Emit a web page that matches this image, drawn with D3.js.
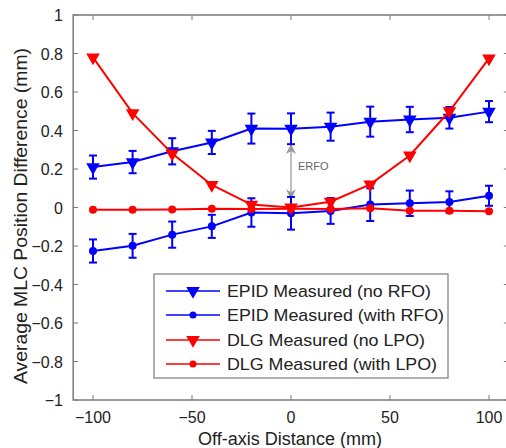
<!DOCTYPE html>
<html>
<head>
<meta charset="utf-8">
<script src="https://cdn.jsdelivr.net/npm/d3@7"></script>
<style>
  body { margin: 0; background: #fff; }
  svg { display: block; font-family: "Liberation Sans", Arial, sans-serif; }
</style>
</head>
<body>
<div id="container"></div>
<script>
// data
const distances = [-100, -80, -60, -40, -20, 0, 20, 40, 60, 80, 100];
const epidNoRfo = [0.21, 0.236, 0.292, 0.338, 0.41, 0.409, 0.42, 0.446, 0.457, 0.466, 0.498];
const epidNoRfoErr = [0.06, 0.058, 0.068, 0.06, 0.078, 0.08, 0.073, 0.078, 0.066, 0.056, 0.055];
const epidRfo = [-0.226, -0.199, -0.141, -0.098, -0.026, -0.03, -0.018, 0.015, 0.022, 0.029, 0.061];
const epidRfoErr = [0.06, 0.062, 0.068, 0.06, 0.074, 0.085, 0.067, 0.085, 0.066, 0.055, 0.052];
const dlgNoLpo = [0.78, 0.49, 0.28, 0.117, 0.015, 0.0, 0.03, 0.12, 0.27, 0.5, 0.775];
const dlgLpo = [-0.012, -0.012, -0.01, -0.006, -0.008, -0.006, -0.008, -0.004, -0.017, -0.017, -0.02];
const xTicks = [-100, -50, 0, 50, 100];
const yTicks = [-1, -0.8, -0.6, -0.4, -0.2, 0, 0.2, 0.4, 0.6, 0.8, 1];
const legendLabels = ['EPID Measured (no RFO)', 'EPID Measured (with RFO)', 'DLG Measured (no LPO)', 'DLG Measured (with LPO)'];

const width = 506, height = 448;
const axisColor = '#7a7a7a';
const textColor = '#222';

const svg = d3.select('#container').append('svg')
  .attr('width', width)
  .attr('height', height);

const x = d3.scaleLinear().domain([-110, 110]).range([73.2, 508.8]);
const y = d3.scaleLinear().domain([-1, 1]).range([400, 15]);

// axes box
svg.append('rect')
  .attr('x', x(-110)).attr('y', y(1))
  .attr('width', x(110) - x(-110)).attr('height', y(-1) - y(1))
  .attr('fill', 'none').attr('stroke', axisColor).attr('stroke-width', 1.5);

const tickLen = 5;
const gTicks = svg.append('g').attr('stroke', axisColor).attr('stroke-width', 1);
xTicks.forEach(t => {
  gTicks.append('line').attr('x1', x(t)).attr('x2', x(t)).attr('y1', y(-1)).attr('y2', y(-1) - tickLen);
  gTicks.append('line').attr('x1', x(t)).attr('x2', x(t)).attr('y1', y(1)).attr('y2', y(1) + tickLen);
});
yTicks.forEach(t => {
  gTicks.append('line').attr('x1', x(-110)).attr('x2', x(-110) + tickLen).attr('y1', y(t)).attr('y2', y(t));
  gTicks.append('line').attr('x1', x(110)).attr('x2', x(110) - tickLen).attr('y1', y(t)).attr('y2', y(t));
});

svg.append('g').selectAll('text').data(xTicks).join('text')
  .attr('x', d => x(d)).attr('y', 423)
  .attr('text-anchor', 'middle')
  .attr('font-size', 16).attr('fill', textColor)
  .text(d => d3.format('')(d));

svg.append('g').selectAll('text').data(yTicks).join('text')
  .attr('x', 63).attr('y', d => y(d) + 6)
  .attr('text-anchor', 'end')
  .attr('font-size', 16).attr('fill', textColor)
  .text(d => d3.format('')(d));

svg.append('text')
  .attr('x', 290).attr('y', 445)
  .attr('text-anchor', 'middle').attr('font-size', 17.5).attr('fill', textColor)
  .attr('textLength', 184).attr('lengthAdjust', 'spacingAndGlyphs')
  .text('Off-axis Distance (mm)');

svg.append('text')
  .attr('transform', 'translate(27,216) rotate(-90)')
  .attr('text-anchor', 'middle').attr('font-size', 17.5).attr('fill', textColor)
  .attr('textLength', 336).attr('lengthAdjust', 'spacingAndGlyphs')
  .text('Average MLC Position Difference (mm)');

// ERFO arrow
svg.append('defs').append('marker')
  .attr('id', 'arrowhead')
  .attr('viewBox', '0 0 10 10')
  .attr('refX', 9).attr('refY', 5)
  .attr('markerWidth', 10).attr('markerHeight', 10)
  .attr('markerUnits', 'userSpaceOnUse')
  .attr('orient', 'auto-start-reverse')
  .append('path').attr('d', 'M0,0 L10,5 L0,10 L3,5 Z').attr('fill', '#999');

svg.append('line')
  .attr('x1', x(0)).attr('x2', x(0))
  .attr('y1', y(0.325)).attr('y2', y(0.048))
  .attr('stroke', '#aaa').attr('stroke-width', 1.5)
  .attr('marker-start', 'url(#arrowhead)')
  .attr('marker-end', 'url(#arrowhead)');

svg.append('text')
  .attr('x', 298).attr('y', 170)
  .attr('font-size', 11).attr('fill', '#666')
  .text('ERFO');

const tri = d3.symbol().type(d3.symbolTriangle).size(80);
const line = d3.line().x(d => x(d[0])).y(d => y(d[1]));

const drawSeries = (vals, errs, color, marker) => {
  const pts = distances.map((d, i) => [d, vals[i], errs ? errs[i] : 0]);
  const g = svg.append('g');
  if (errs) {
    const eg = g.append('g').attr('stroke', color).attr('stroke-width', 2);
    pts.forEach(p => {
      const top = y(p[1] + p[2]), bot = y(p[1] - p[2]), cx = x(p[0]);
      eg.append('line').attr('x1', cx).attr('x2', cx).attr('y1', top).attr('y2', bot);
      eg.append('line').attr('x1', cx - 4).attr('x2', cx + 4).attr('y1', top).attr('y2', top);
      eg.append('line').attr('x1', cx - 4).attr('x2', cx + 4).attr('y1', bot).attr('y2', bot);
    });
  }
  g.append('path').datum(pts).attr('d', line)
    .attr('fill', 'none').attr('stroke', color).attr('stroke-width', 2);
  if (marker === 'tri') {
    g.selectAll('.m').data(pts).join('path')
      .attr('d', tri)
      .attr('transform', d => `translate(${x(d[0])},${y(d[1])}) rotate(180)`)
      .attr('fill', color);
  } else {
    g.selectAll('.m').data(pts).join('circle')
      .attr('cx', d => x(d[0])).attr('cy', d => y(d[1])).attr('r', 4)
      .attr('fill', color);
  }
};

drawSeries(epidNoRfo, epidNoRfoErr, '#0000ff', 'tri');
drawSeries(epidRfo, epidRfoErr, '#0000ff', 'dot');
drawSeries(dlgNoLpo, null, '#ff0000', 'tri');
drawSeries(dlgLpo, null, '#ff0000', 'dot');

// legend
const legend = svg.append('g');
legend.append('rect')
  .attr('x', 154).attr('y', 274).attr('width', 294).attr('height', 104)
  .attr('fill', '#fff').attr('stroke', axisColor).attr('stroke-width', 1.2);

const legendColors = ['#0000ff', '#0000ff', '#ff0000', '#ff0000'];
const legendMarkers = ['tri', 'dot', 'tri', 'dot'];
const legendWidths = [204, 217, 198, 210];
const rowY = [291, 315, 340, 364];
legendLabels.forEach((lab, i) => {
  const yy = rowY[i];
  legend.append('line').attr('x1', 166).attr('x2', 220).attr('y1', yy).attr('y2', yy)
    .attr('stroke', legendColors[i]).attr('stroke-width', 1.5);
  if (legendMarkers[i] === 'tri') {
    legend.append('path').attr('d', tri)
      .attr('transform', `translate(193,${yy}) rotate(180)`)
      .attr('fill', legendColors[i]);
  } else {
    legend.append('circle').attr('cx', 193).attr('cy', yy).attr('r', 3.5)
      .attr('fill', legendColors[i]);
  }
  legend.append('text').attr('x', 227).attr('y', yy + 6)
    .attr('font-size', 17).attr('fill', textColor)
    .attr('textLength', legendWidths[i]).attr('lengthAdjust', 'spacingAndGlyphs')
    .text(lab);
});
</script>
</body>
</html>
